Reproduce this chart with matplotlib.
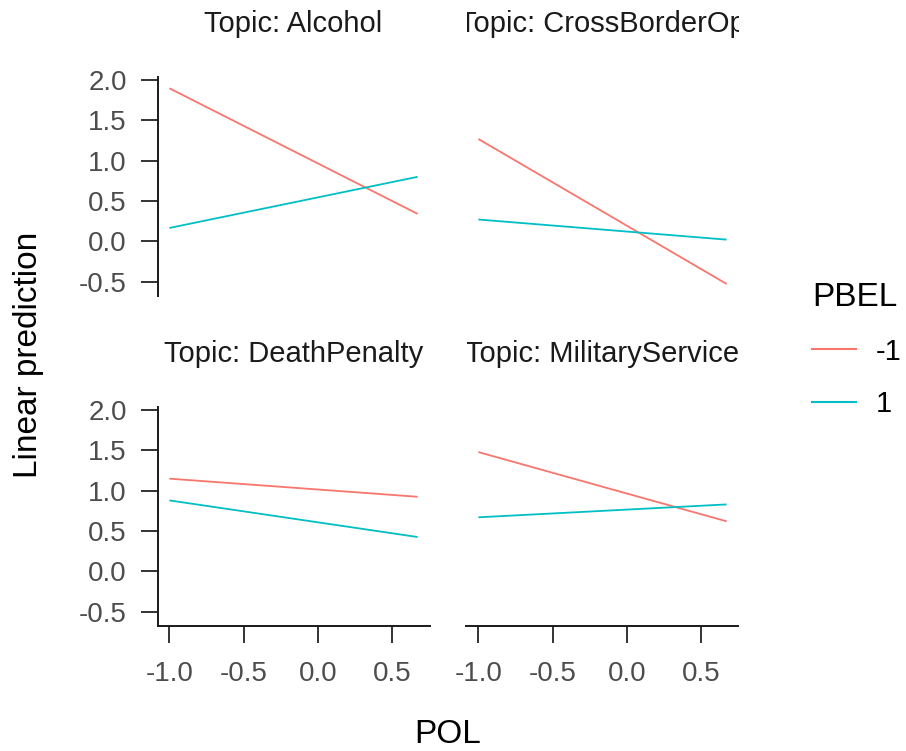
import matplotlib
matplotlib.use('Agg')
import matplotlib.pyplot as plt
from matplotlib.lines import Line2D
from matplotlib.transforms import Bbox, TransformedBbox

plt.rcParams['font.family'] = ['Liberation Sans', 'DejaVu Sans']

# Predicciones lineales por tema (extremos de POL)
pol = [-1.0, 0.67]
topics = ['Alcohol', 'CrossBorderOp', 'DeathPenalty', 'MilitaryService']
pbel_levels = ['-1', '1']
pbel_colors = ['#F8766D', '#00BFC4']
pred_pbel_neg = [[1.90, 0.34], [1.27, -0.53], [1.15, 0.925], [1.48, 0.62]]
pred_pbel_pos = [[0.165, 0.80], [0.27, 0.02], [0.88, 0.425], [0.67, 0.83]]
x_ticks = [-1.0, -0.5, 0.0, 0.5]
y_ticks = [-0.5, 0.0, 0.5, 1.0, 1.5, 2.0]

W, H = 906, 751
fig = plt.figure(figsize=(W / 100, H / 100), dpi=100)

col_x = [157.5, 466.5]
row_y = [77, 407]
pw, ph = 272, 219

for i, topic in enumerate(topics):
    r, c = divmod(i, 2)
    ax = fig.add_axes([col_x[c] / W, 1 - (row_y[r] + ph) / H, pw / W, ph / H])
    for preds, col in zip([pred_pbel_neg, pred_pbel_pos], pbel_colors):
        ax.plot(pol, preds[i], color=col, lw=1.3, solid_capstyle='butt')
    ax.set_xlim(-1.08, 0.75)
    ax.set_ylim(-0.68, 2.04)
    ax.set_xticks(x_ticks)
    ax.set_yticks(y_ticks)
    ax.set_xticklabels([f'{v:.1f}' for v in x_ticks])
    ax.set_yticklabels([f'{v:.1f}' for v in y_ticks])
    ax.tick_params(length=12, width=1.4, color='#333333', labelcolor='#4D4D4D',
                   labelsize=20)
    ax.tick_params(axis='y', pad=10)
    ax.tick_params(axis='x', pad=13)
    for s in ['top', 'right']:
        ax.spines[s].set_visible(False)
    for s in ['left', 'bottom']:
        ax.spines[s].set_linewidth(1.4)
        ax.spines[s].set_color('#1A1A1A')
    if c != 0:
        ax.spines['left'].set_visible(False)
        ax.tick_params(axis='y', left=False, labelleft=False)
    if r != 1:
        ax.spines['bottom'].set_visible(False)
        ax.tick_params(axis='x', bottom=False, labelbottom=False)

    # etiqueta del panel, recortada al ancho del panel
    t = ax.text(0.5, 1 + 45.3 / ph, f'Topic: {topic}', transform=ax.transAxes,
                ha='center', va='baseline', fontsize=21, color='#1A1A1A',
                clip_on=True)
    t.set_clip_box(TransformedBbox(Bbox([[0, 1], [1, 1.5]]), ax.transAxes))

fig.text(29 / W, 1 - 355 / H, 'Linear prediction', rotation=90,
         ha='center', va='center', fontsize=24, color='black')
fig.text(448 / W, 1 / H, 'POL', ha='center', va='bottom', fontsize=24,
         color='black')

handles = [Line2D([], [], color=col, lw=1.5) for col in pbel_colors]
fig.legend(handles, pbel_levels, title='PBEL', loc='upper left',
           bbox_to_anchor=(812 / W, 1 - 282 / H), frameon=False,
           fontsize=21, title_fontsize=24, alignment='left',
           handlelength=1.5, handletextpad=0.7, labelspacing=0.84,
           borderaxespad=0, borderpad=0)

fig.savefig('out.png', dpi=100)
